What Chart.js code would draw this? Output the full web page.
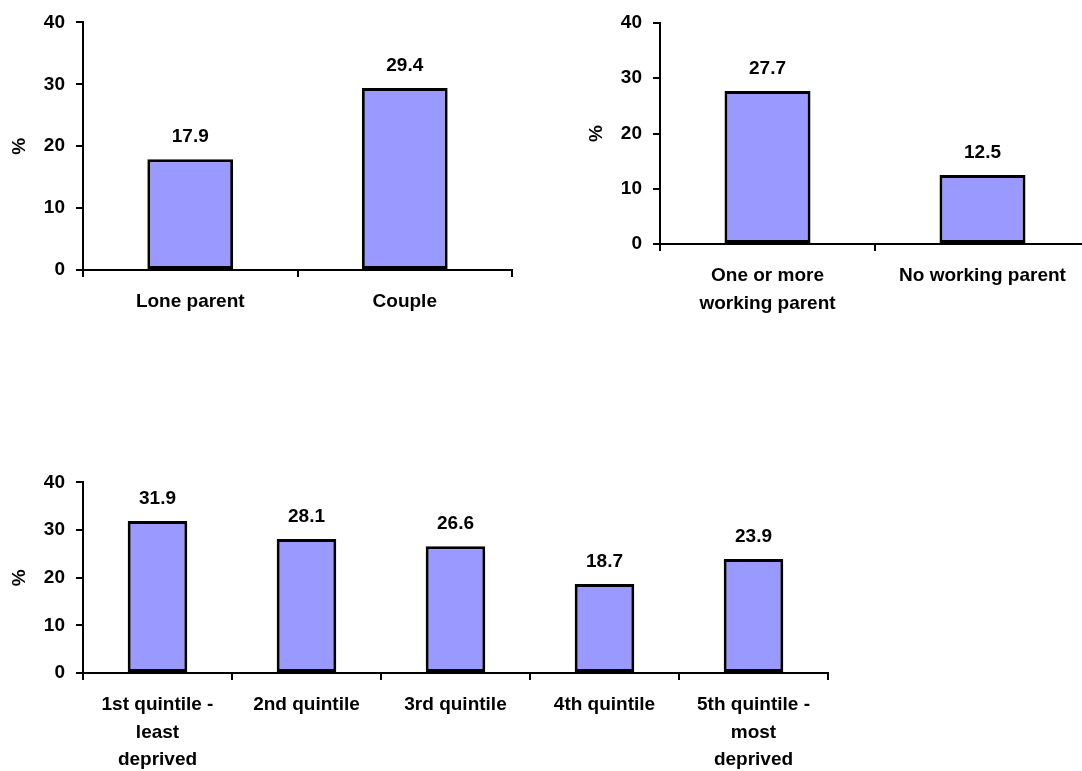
<!DOCTYPE html>
<html>
<head>
<meta charset="utf-8">
<script src="https://cdn.jsdelivr.net/npm/chart.js@4/dist/chart.umd.min.js"></script>
<style>
  html, body { margin: 0; padding: 0; background: #fff; overflow: hidden; width: 1082px; height: 771px; }
  .box { position: absolute; }
</style>
</head>
<body>
<div class="box" id="b1" style="left:0;top:0;width:522px;height:340px"><canvas id="c1"></canvas></div>
<div class="box" id="b2" style="left:577px;top:0;width:523px;height:320px"><canvas id="c2"></canvas></div>
<div class="box" id="b3" style="left:0;top:460px;width:838px;height:311px"><canvas id="c3"></canvas></div>
<script>
// three small panels, same look: % of children, bars with value labels on top
var familyLabels = ["Lone parent", "Couple"];
var familyValues = [17.9, 29.4];

var workLabels = [["One or more", "working parent"], "No working parent"];
var workValues = [27.7, 12.5];

var quintileLabels = [["1st quintile -", "least", "deprived"], "2nd quintile", "3rd quintile",
                      "4th quintile", ["5th quintile -", "most", "deprived"]];
var quintileValues = [31.9, 28.1, 26.6, 18.7, 23.9];

var yTicks = [0, 10, 20, 30, 40];

var FONT = "'Liberation Sans', Arial, sans-serif";
Chart.defaults.font.family = FONT;
Chart.defaults.font.size = 19;
Chart.defaults.font.weight = "bold";
Chart.defaults.color = "#000";

// value above each bar
var valueLabels = {
  id: "valueLabels",
  afterDatasetsDraw: function (chart) {
    var ctx = chart.ctx;
    ctx.save();
    ctx.font = "bold 19px " + FONT;
    ctx.fillStyle = "#000";
    ctx.textAlign = "center";
    ctx.textBaseline = "alphabetic";
    chart.getDatasetMeta(0).data.forEach(function (bar, i) {
      ctx.fillText(chart.data.datasets[0].data[i].toFixed(1), bar.x, bar.y - 17);
    });
    ctx.restore();
  }
};

function makeChart(id, labels, values, padTop, xHeight) {
  return new Chart(document.getElementById(id), {
    type: "bar",
    data: { labels: labels, datasets: [{
      data: values, backgroundColor: "#9999FF", borderColor: "#000", borderWidth: 3,
      borderSkipped: false, barPercentage: 0.4, categoryPercentage: 1 }] },
    options: {
      responsive: true, maintainAspectRatio: false, animation: false,
      layout: { padding: { top: padTop, right: 10, bottom: 0, left: 0 } },
      plugins: { legend: { display: false }, tooltip: { enabled: false } },
      scales: {
        x: {
          grid: { offset: true, drawOnChartArea: false, drawTicks: true, tickLength: 7, color: "#000", lineWidth: 2 },
          border: { color: "#000", width: 2 },
          ticks: { padding: 11, maxRotation: 0, autoSkip: false, font: { lineHeight: 1.45 } },
          afterFit: function (s) { s.height = xHeight; }
        },
        y: {
          min: 0, max: 40,
          afterBuildTicks: function (s) { s.ticks = yTicks.map(function (v) { return { value: v }; }); },
          grid: { drawOnChartArea: false, drawTicks: true, tickLength: 7, color: "#000", lineWidth: 2 },
          border: { color: "#000", width: 2 },
          ticks: { padding: 11 },
          title: { display: true, text: "%", padding: { top: 8, bottom: 0 } },
          afterFit: function (s) { s.width = 83; }
        }
      }
    },
    plugins: [valueLabels]
  });
}

makeChart("c1", familyLabels, familyValues, 21, 70);
makeChart("c2", workLabels, workValues, 23, 76);
makeChart("c3", quintileLabels, quintileValues, 20, 98);
</script>
</body>
</html>
